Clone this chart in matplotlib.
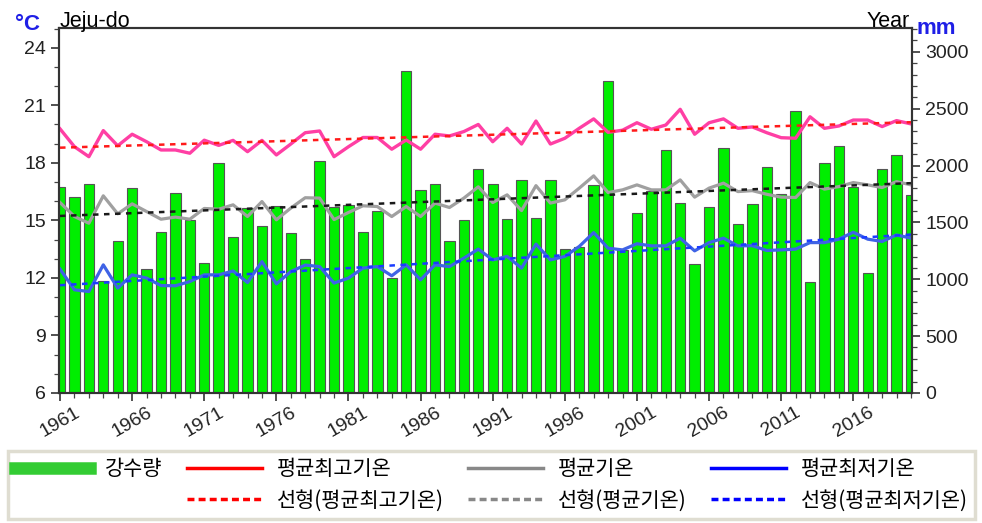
import numpy as np
import matplotlib.pyplot as plt
from matplotlib.lines import Line2D
from matplotlib.ticker import MultipleLocator

plt.rcParams['font.family'] = ['Liberation Sans', 'Noto Sans CJK KR', 'DejaVu Sans']

years = list(range(1961, 2021))

# annual precipitation (mm)
rain = [1815, 1720, 1835, 985, 1338, 1800, 1090, 1415, 1763, 1523,
        1142, 2021, 1376, 1626, 1470, 1646, 1406, 1180, 2041, 1634,
        1656, 1417, 1602, 1008, 2835, 1787, 1837, 1341, 1523, 1968,
        1839, 1529, 1872, 1538, 1872, 1265, 1283, 1833, 2747, 1255,
        1587, 1780, 2141, 1675, 1134, 1640, 2156, 1488, 1661, 1991,
        1751, 2478, 972, 2021, 2173, 1815, 1054, 1968, 2097, 1737]

# mean daily max temperature
tmax = [19.77, 18.84, 18.32, 19.68, 18.89, 19.49, 19.10, 18.67, 18.67, 18.50,
        19.18, 18.91, 19.17, 18.58, 19.17, 18.41, 18.98, 19.57, 19.66, 18.32,
        18.84, 19.32, 19.32, 18.71, 19.19, 18.71, 19.49, 19.40, 19.63, 20.00,
        19.10, 19.80, 18.98, 20.18, 18.98, 19.28, 19.80, 20.29, 19.59, 19.70,
        20.09, 19.75, 19.97, 20.79, 19.49, 20.09, 20.29, 19.80, 19.87, 19.57,
        19.31, 19.28, 20.40, 19.80, 19.92, 20.23, 20.23, 19.89, 20.20, 20.03]

# mean temperature
tavg = [15.93, 15.20, 14.85, 16.28, 15.34, 15.86, 15.46, 15.06, 15.17, 15.06,
        15.62, 15.58, 15.81, 15.20, 15.98, 15.03, 15.64, 16.18, 16.16, 15.04,
        15.41, 15.76, 15.72, 15.20, 15.72, 15.20, 15.90, 15.67, 16.16, 16.75,
        15.93, 16.33, 15.51, 16.81, 15.90, 16.07, 16.68, 17.32, 16.45, 16.59,
        16.85, 16.59, 16.59, 17.11, 16.21, 16.68, 16.94, 16.50, 16.55, 16.36,
        16.21, 16.19, 16.97, 16.63, 16.76, 16.97, 16.85, 16.71, 17.02, 16.85]

# mean daily min temperature
tmin = [12.46, 11.38, 11.29, 12.68, 11.47, 12.16, 11.99, 11.60, 11.59, 11.81,
        12.16, 12.16, 12.36, 11.76, 12.85, 11.69, 12.33, 12.67, 12.59, 11.73,
        11.99, 12.51, 12.59, 12.11, 12.68, 11.90, 12.68, 12.59, 13.03, 13.50,
        12.94, 13.12, 12.51, 13.76, 12.94, 13.12, 13.64, 14.36, 13.55, 13.46,
        13.78, 13.67, 13.67, 14.07, 13.41, 13.84, 14.07, 13.67, 13.68, 13.43,
        13.46, 13.50, 13.84, 13.84, 14.02, 14.38, 14.02, 13.90, 14.24, 14.07]

tick_years = list(range(1961, 2017, 5))

yrs = np.array(years)


def trend(vals):
    a, b = np.polyfit(yrs, vals, 1)
    return a * yrs + b


fig = plt.figure(figsize=(9.82, 5.23), dpi=100)
ax = fig.add_axes([0.0601, 0.2486, 0.8686, 0.6979])
ax2 = ax.twinx()
ax.set_zorder(ax2.get_zorder() + 1)
ax.patch.set_visible(False)

ax2.bar(years, rain, width=0.72, color='#00ee00', edgecolor='#555555', linewidth=0.8)
ax2.set_ylim(0, 3210)
ax2.yaxis.set_major_locator(MultipleLocator(500))
ax2.yaxis.set_minor_locator(MultipleLocator(100))

ax.plot(years, tmax, color='#ff3fa4', lw=2.4)
ax.plot(years, tavg, color='#a0a0a0', lw=2.3)
ax.plot(years, tmin, color='#3f63e6', lw=2.3)
ax.plot(years, trend(tmax), color='#ff1a1a', lw=1.8, ls=(0, (2.2, 2.2)))
ax.plot(years, trend(tavg), color='#1a1a1a', lw=1.8, ls=(0, (2.2, 2.2)))
ax.plot(years, trend(tmin), color='#1a3cff', lw=1.8, ls=(0, (2.2, 2.2)))

ax.set_xlim(1960.93, 2020.07)
ax.set_ylim(6, 25.03)
ax.yaxis.set_major_locator(MultipleLocator(3))
ax.yaxis.set_minor_locator(MultipleLocator(1))
ax.set_xticks(tick_years)
ax.set_xticklabels([str(y) for y in tick_years], rotation=30, ha='center')
ax.xaxis.set_minor_locator(MultipleLocator(1))

for a in (ax, ax2):
    a.tick_params(which='major', direction='out', length=6, width=1.1,
                  labelsize=14, colors='#222222')
    a.tick_params(which='minor', direction='out', length=3.5, width=0.9, colors='#444444')
    for s in a.spines.values():
        s.set_linewidth(1.5)
        s.set_color('#333333')
ax.tick_params(axis='x', pad=2)

fig.text(28 / 982, 1 - 24 / 523, '°C', color='#1f1fe6', fontsize=16, fontweight='bold',
         ha='center', va='center')
fig.text(60 / 982, 1 - 27 / 523, 'Jeju-do', fontsize=15.5, ha='left', va='baseline')
fig.text(910 / 982, 1 - 27 / 523, 'Year', fontsize=15.5, ha='right', va='baseline')
fig.text(916 / 982, 1 - 34 / 523, 'mm', color='#1f1fe6', fontsize=16, fontweight='bold',
         ha='left', va='baseline')

handles = [
    Line2D([], [], color='#33cc33', lw=9),
    Line2D([], [], color='none'),
    Line2D([], [], color='#ff0000', lw=2.5),
    Line2D([], [], color='#ff0000', lw=2.5, ls=(0, (2, 1.2))),
    Line2D([], [], color='#888888', lw=2.5),
    Line2D([], [], color='#888888', lw=2.5, ls=(0, (2, 1.2))),
    Line2D([], [], color='#0000ff', lw=2.5),
    Line2D([], [], color='#0000ff', lw=2.5, ls=(0, (2, 1.2))),
]
labels = ['강수량', '', '평균최고기온', '선형(평균최고기온)', '평균기온', '선형(평균기온)',
          '평균최저기온', '선형(평균최저기온)']
leg = fig.legend(handles, labels, ncol=4, loc='lower left',
                 bbox_to_anchor=(8 / 982, 4 / 523, 967 / 982, 72 / 523), mode='expand',
                 borderaxespad=0,
                 prop={'family': ['Noto Sans CJK KR', 'DejaVu Sans'], 'size': 15},
                 handlelength=3.6, handletextpad=0.7, columnspacing=0.5,
                 labelspacing=0.45, borderpad=0.35, fancybox=False, frameon=True)
leg.get_frame().set_edgecolor('#d8d5c6')
leg.get_frame().set_linewidth(2.5)

fig.savefig('out.png', dpi=100)
